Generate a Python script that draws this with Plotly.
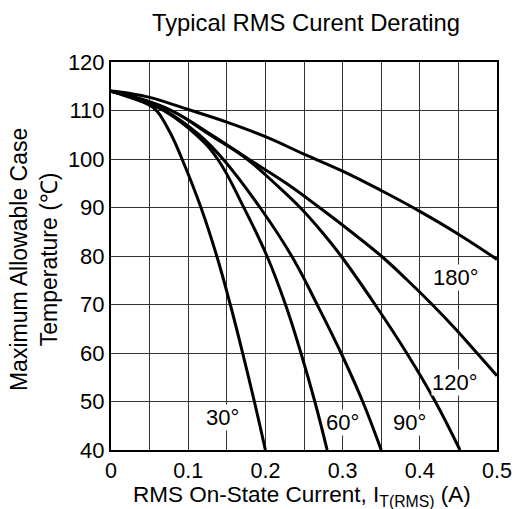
import plotly.graph_objects as go

# Curves: RMS on-state current (A) vs maximum allowable case temperature (deg C)
i_30 = [0, 0.03, 0.05, 0.06, 0.078, 0.092, 0.1165, 0.137, 0.1545, 0.1705, 0.1857, 0.2]
t_30 = [114, 112.4, 111.1, 109.8, 105, 100, 90, 80, 70, 60, 50, 40]

i_60 = [0, 0.03, 0.068, 0.11, 0.138, 0.172, 0.202, 0.226, 0.246, 0.264, 0.28]
t_60 = [114, 112.6, 110, 105, 100, 90, 80, 70, 60, 50, 40]

i_90 = [0, 0.03, 0.07, 0.114, 0.145, 0.193, 0.234, 0.267, 0.298, 0.326, 0.35]
t_90 = [114, 112.6, 110, 105, 100, 90, 80, 70, 60, 50, 40]

i_c4 = [0, 0.03, 0.078, 0.128, 0.176, 0.212, 0.245, 0.273, 0.298, 0.342, 0.383, 0.42, 0.452]
t_c4 = [114, 112.7, 110, 105, 100, 95, 90, 85, 80, 70, 60, 50, 40]

i_120 = [0, 0.03, 0.078, 0.13, 0.178, 0.227, 0.27, 0.311, 0.35, 0.384, 0.416, 0.446, 0.474, 0.5]
t_120 = [114, 112.8, 110, 105, 100, 95, 90, 85, 80, 75, 70, 65, 60, 55.3]

i_180 = [0, 0.025, 0.05, 0.1, 0.15, 0.2, 0.25, 0.3, 0.35, 0.4, 0.45, 0.5]
t_180 = [114, 113.5, 112.7, 110.2, 107.6, 104.6, 101.0, 97.5, 93.5, 89.2, 84.5, 79.3]

curves = [(i_30, t_30), (i_60, t_60), (i_90, t_90), (i_c4, t_c4), (i_120, t_120), (i_180, t_180)]

# Curve labels
label_text = ["180°", "120°", "30°", "60°", "90°"]
label_x = [0.447, 0.445, 0.144, 0.3, 0.387]
label_y = [75.5, 54, 46.8, 45.7, 45.7]

x_tickvals = [0, 0.1, 0.2, 0.3, 0.4, 0.5]
x_ticktext = ["0", "0.1", "0.2", "0.3", "0.4", "0.5"]
x_minor_tickvals = [0.05, 0.15, 0.25, 0.35, 0.45]
y_tickvals = [40, 50, 60, 70, 80, 90, 100, 110, 120]

FONT = "Liberation Sans, Arial, sans-serif"

fig = go.Figure()
for xs, ys in curves:
    fig.add_trace(go.Scatter(x=xs, y=ys, mode="lines",
                             line=dict(color="black", width=3, shape="spline", smoothing=1.2),
                             showlegend=False, hoverinfo="skip"))

annotations = []
for txt, lx, ly in zip(label_text, label_x, label_y):
    annotations.append(dict(x=lx, y=ly, xref="x", yref="y", text=txt, showarrow=False,
                            font=dict(family=FONT, size=22, color="black"),
                            bgcolor="white", borderpad=0,
                            xanchor="center", yanchor="middle"))

annotations.append(dict(xref="paper", yref="paper", x=-0.198, y=0.491,
                        text="Maximum Allowable Case<br>Temperature (℃)",
                        textangle=-90, showarrow=False, xanchor="center", yanchor="middle",
                        font=dict(family=FONT, size=23, color="black")))
annotations.append(dict(xref="paper", yref="paper", x=0.495, y=-0.118,
                        text="RMS On-State Current, I<sub>T(RMS)</sub> (A)",
                        showarrow=False, xanchor="center", yanchor="middle",
                        font=dict(family=FONT, size=22.5, color="black")))

fig.update_layout(
    width=525, height=509,
    margin=dict(l=111, r=28, t=62, b=59),
    paper_bgcolor="white", plot_bgcolor="white",
    title=dict(text="Typical RMS Curent Derating", x=306/525, y=1-23/509,
               xanchor="center", yanchor="middle",
               font=dict(family=FONT, size=23.8, color="black")),
    annotations=annotations,
    font=dict(family=FONT, size=22, color="black"),
)
fig.update_xaxes(range=[0, 0.5], tickmode="array", tickvals=x_tickvals, ticktext=x_ticktext,
                 showgrid=True, gridcolor="#333", gridwidth=1,
                 minor=dict(tickmode="array", tickvals=x_minor_tickvals, showgrid=True,
                            gridcolor="#333", gridwidth=1, ticks=""),
                 showline=True, linecolor="black", linewidth=2, mirror=True,
                 ticks="", zeroline=False, tickfont=dict(family=FONT, size=21.5, color="black"))
fig.update_yaxes(range=[40, 120], tickvals=y_tickvals,
                 showgrid=True, gridcolor="#333", gridwidth=1,
                 showline=True, linecolor="black", linewidth=2, mirror=True,
                 ticks="", zeroline=False, tickfont=dict(family=FONT, size=22, color="black"))

fig.write_html("out.html", config={"displayModeBar": False},
               post_script="document.body.style.margin='0';")
